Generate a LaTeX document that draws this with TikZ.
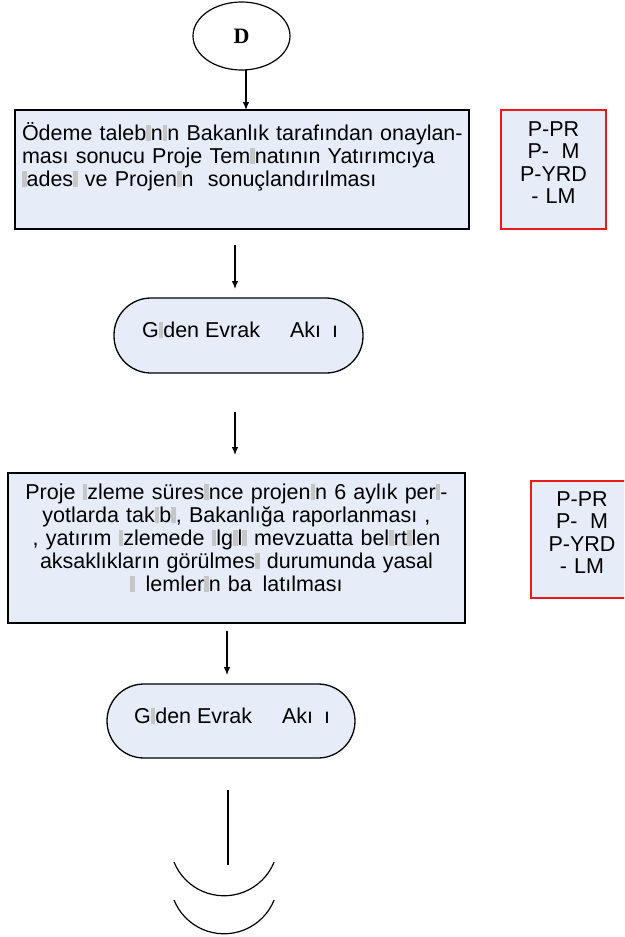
\documentclass[tikz,border=0pt]{standalone}
\usepackage{fontspec}
\setmainfont{Liberation Sans}
\newfontfamily\dfont{Liberation Serif}
\usetikzlibrary{arrows.meta,shapes.geometric}
\definecolor{boxfill}{RGB}{231,237,248}
\definecolor{redline}{RGB}{235,25,25}
\newcommand{\miss}{\textcolor{gray!45}{\rule[-1pt]{4.6pt}{16pt}}}
\begin{document}
\begin{tikzpicture}[x=1pt,y=1pt,
  every node/.style={inner sep=0pt, outer sep=0pt},
  flowbox/.style={draw=black, line width=1.5pt, fill=boxfill, rectangle},
  rolebox/.style={draw=redline, line width=1.6pt, fill=boxfill, rectangle},
  term/.style={draw=black, line width=1.3pt, fill=boxfill, rectangle, rounded corners=37pt},
  txt/.style={font=\fontsize{21.5}{23}\selectfont},
  roletxt/.style={font=\fontsize{21.5}{22.5}\selectfont, text width=100pt, align=center},
  arr/.style={line width=1.2pt, -{Latex[length=8pt,width=6.5pt]}},
  plain/.style={line width=1.2pt}]
\useasboundingbox (0,0) rectangle (624,-937);

% start terminal
\node[ellipse, draw, line width=1.2pt, minimum width=97pt, minimum height=68pt] (D) at (241.5,-36)
  {\dfont\bfseries\fontsize{22}{22}\selectfont D};

% box 1
\node[flowbox, minimum width=454pt, minimum height=119pt, anchor=north west] (b1) at (15,-110) {};
\node[txt, anchor=base west, text width=450pt, align=left] (b1t) at (22,-140)
  {Ödeme taleb\miss n\miss n Bakanlık tarafından onaylan-\\
   ması sonucu Proje Tem\miss natının Yatırımcıya\\
   \miss ades\miss\ ve Projen\miss n\ \ sonuçlandırılması};
\node[rolebox, minimum width=105pt, minimum height=119pt, anchor=north west] (r1) at (501,-110) {};
\node[roletxt, anchor=base] (r1t) at (553.5,-136) {P-PR\\P-\hspace{12.5pt}M\\P-YRD\\- LM};

\draw[arr] ([xshift=4.5pt]D.south) -- ([xshift=4.5pt]D.south |- b1.north);

% first outgoing document terminal
\node[term, minimum width=249pt, minimum height=75pt, anchor=north west] (s1) at (114,-298) {};
\node[txt, anchor=base west] (s1t) at (142,-337) {G\miss den Evrak\hspace{30pt}Akı\hspace{11pt}ı};

\coordinate (a2s) at (235,-245);
\draw[arr] (a2s) -- ([yshift=9pt]a2s |- s1.north);

% box 2
\node[flowbox, minimum width=457pt, minimum height=150pt, anchor=north west] (b2) at (8,-473) {};
\node[txt, anchor=base, text width=450pt, align=center] (b2t) at (236.5,-499)
  {Proje \miss zleme süres\miss nce projen\miss n 6 aylık per\miss -\\
   yotlarda tak\miss b\miss , Bakanlığa raporlanması ,\\
   , yatırım \miss zlemede \miss lg\miss l\miss\ mevzuatta bel\miss rt\miss len\\
   aksaklıkların görülmes\miss\ durumunda yasal\\
   \miss\hspace{10.75pt}lemler\miss n ba\hspace{10.75pt}latılması};
\begin{scope}
\clip (0,0) rectangle (624,-937);
\node[rolebox, minimum width=102pt, minimum height=117pt, anchor=north west] (r2) at (531,-481) {};
\end{scope}
\node[roletxt, anchor=base] (r2t) at (582,-506) {P-PR\\P-\hspace{12.5pt}M\\P-YRD\\- LM};

\coordinate (a3s) at (235,-412);
\draw[arr] (a3s) -- ([yshift=18pt]a3s |- b2.north);

% second outgoing document terminal
\node[term, minimum width=248pt, minimum height=74pt, anchor=north west] (s2) at (107,-684) {};
\node[txt, anchor=base west] (s2t) at (134,-723) {G\miss den Evrak\hspace{30pt}Akı\hspace{11pt}ı};

\coordinate (a4s) at (227,-631);
\draw[arr] (a4s) -- ([yshift=9pt]a4s |- s2.north);

% continuation
\coordinate (l1) at (228,-790);
\coordinate (l2) at (228,-865);
\draw[plain] (l1) -- (l2);
\draw[plain] (174,-862) arc[start angle=202, end angle=338, radius=54];
\draw[plain] (174,-900) arc[start angle=202, end angle=338, radius=54];
\end{tikzpicture}
\end{document}
